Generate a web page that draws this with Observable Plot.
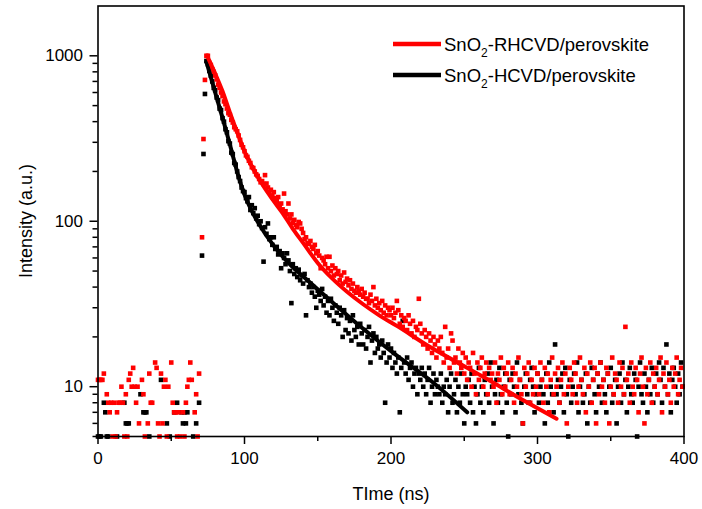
<!DOCTYPE html>
<html><head><meta charset="utf-8">
<script src="https://cdn.jsdelivr.net/npm/d3@7"></script>
<script src="https://cdn.jsdelivr.net/npm/@observablehq/plot@0.6"></script>
<style>
html,body{margin:0;padding:0;background:#fff;}
#chart{width:702px;height:509px;}
</style></head><body><div id="chart"></div>
<script>
// TCSPC channel width (ns); channel i is at time i * channelWidthNs
const channelWidthNs = 1;

// SnO2-RHCVD/perovskite photon counts, channels 0..399
const redCounts = [
  11, 11, 11, 11, 12, 4, 9, 8, 7, 8,
  5, 8, 5, 7, 8, 8, 10, 8, 5, 9,
  5, 11, 12, 10, 13, 10, 8, 10, 6, 4,
  11, 9, 5, 3, 6, 12, 8, 8, 4, 14,
  13, 6, 5, 12, 6, 10, 11, 5, 10, 4,
  14, 8, 7, 7, 5, 7, 5, 4, 7, 5,
  8, 10, 11, 14, 11, 3, 7, 9, 5, 12,
  4, 80, 314, 715, 1000, 1000, 905, 880, 830, 800,
  760, 720, 670, 640, 600, 570, 530, 510, 480, 450,
  440, 410, 395, 370, 360, 350, 330, 310, 290, 280,
  265, 250, 245, 232, 225, 212, 210, 200, 192, 188,
  180, 172, 175, 168, 190, 169, 160, 150, 155, 143,
  150, 138, 132, 140, 125, 128, 118, 147, 115, 110,
  128, 104, 110, 98, 102, 95, 92, 99, 97, 90,
  85, 78, 80, 74, 73, 76, 70, 68, 72, 64,
  66, 62, 52, 60, 58, 55, 61, 52, 61, 50,
  54, 47, 52, 48, 50, 44, 47, 42, 49, 43,
  45, 41, 44, 39, 42, 38, 37, 40, 38, 36,
  39, 35, 37, 34, 34, 32, 36, 33, 40, 31,
  34, 30, 32, 29, 33, 28, 31, 27, 30, 29,
  27, 30, 26, 28, 33, 29, 24, 27, 23, 26,
  25, 22, 27, 24, 21, 25, 20, 23, 22, 34,
  24, 21, 18, 22, 20, 17, 21, 19, 16, 20,
  18, 15, 19, 17, 20, 16, 14, 23, 15, 17,
  13, 21, 19, 14, 15, 12, 17, 14, 13, 16,
  12, 15, 11, 14, 13, 10, 16, 12, 9, 14,
  11, 13, 15, 10, 12, 14, 9, 13, 11, 12,
  10, 14, 8, 12, 11, 15, 9, 13, 10, 12,
  14, 9, 11, 13, 8, 12, 10, 15, 11, 9,
  6, 13, 10, 12, 14, 8, 11, 9, 13, 10,
  12, 9, 14, 11, 8, 13, 10, 12, 7, 11,
  15, 9, 12, 10, 13, 8, 11, 14, 9, 12,
  6, 10, 13, 11, 9, 14, 12, 8, 10, 15,
  11, 9, 13, 7, 12, 10, 14, 8, 11, 13,
  6, 12, 9, 14, 10, 11, 8, 13, 12, 6,
  10, 15, 9, 12, 11, 8, 14, 10, 13, 9,
  23, 11, 12, 8, 14, 10, 9, 13, 11, 7,
  12, 15, 10, 6, 13, 9, 11, 14, 8, 12,
  10, 13, 9, 11, 15, 7, 12, 10, 14, 9,
  11, 8, 13, 10, 12, 15, 9, 11, 13, 10
];

// SnO2-HCVD/perovskite photon counts, channels 0..399
const blackCounts = [
  5, 5, 5, 4, 8, 7, 5, 5, 4, 3,
  4, 2, 4, 5, 3, 4, 2, 4, 8, 6,
  6, 6, 4, 3, 4, 2, 4, 3, 4, 9,
  4, 7, 7, 7, 4, 5, 3, 4, 2, 4,
  3, 4, 4, 11, 3, 4, 2, 6, 4, 5,
  3, 4, 7, 4, 8, 3, 4, 7, 6, 7,
  6, 7, 4, 3, 4, 5, 4, 6, 3, 8,
  4, 62, 255, 588, 930, 890, 810, 760, 700, 640,
  620, 560, 540, 480, 470, 420, 400, 360, 345, 305,
  295, 260, 255, 225, 220, 200, 185, 175, 160, 152,
  150, 138, 132, 140, 117, 125, 112, 120, 104, 108,
  96, 100, 91, 57, 92, 84, 97, 78, 80, 72,
  80, 68, 70, 63, 66, 52, 64, 60, 55, 64,
  58, 50, 32, 55, 48, 52, 46, 51, 44, 47,
  42, 48, 27, 44, 40, 42, 37, 40, 35, 30,
  38, 36, 33, 39, 31, 35, 28, 33, 27, 34,
  30, 25, 31, 28, 24, 30, 27, 20, 29, 22,
  26, 21, 25, 19, 27, 22, 20, 23, 18, 24,
  21, 18, 22, 17, 20, 23, 14, 19, 21, 16,
  20, 17, 18, 15, 19, 16, 8, 14, 18, 15,
  17, 13, 16, 14, 12, 15, 7, 13, 25, 14,
  12, 15, 11, 13, 14, 10, 12, 13, 9, 12,
  11, 13, 10, 12, 9, 11, 13, 8, 10, 12,
  9, 11, 10, 9, 12, 8, 10, 9, 11, 7,
  10, 12, 8, 9, 11, 7, 10, 8, 12, 9,
  6, 10, 9, 11, 8, 12, 7, 10, 6, 9,
  13, 8, 10, 7, 11, 9, 12, 8, 14, 10,
  6, 9, 11, 8, 13, 9, 7, 10, 12, 8,
  5, 11, 9, 12, 10, 7, 14, 9, 11, 8,
  6, 10, 12, 9, 8, 11, 13, 10, 7, 9,
  12, 8, 10, 11, 9, 6, 12, 8, 14, 10,
  9, 7, 18, 9, 11, 8, 10, 12, 7, 13,
  9, 5, 11, 8, 10, 12, 9, 14, 7, 10,
  11, 8, 9, 12, 6, 10, 8, 13, 11, 9,
  7, 12, 10, 14, 8, 11, 9, 7, 12, 10,
  13, 8, 9, 11, 6, 10, 12, 8, 14, 9,
  11, 7, 10, 13, 9, 8, 12, 11, 5, 10,
  14, 9, 8, 12, 10, 7, 11, 9, 13, 8,
  10, 12, 9, 14, 11, 8, 13, 10, 18, 9,
  12, 7, 11, 13, 10, 8, 12, 9, 14, 10
];

// Fitted decay curves
const redFitTime   = [74.5, 80, 85, 90, 95, 100, 106, 112, 119, 126, 133, 140, 150, 160, 170, 181, 192, 204, 227, 250, 265, 290, 313];
const redFitCount  = [1000, 780, 610, 455, 345, 265, 207, 168, 136, 112, 90, 74, 56, 45, 37.5, 31.5, 27, 23.3, 17.3, 13.3, 11.2, 8.3, 6.4];
const blackFitTime  = [74, 80, 87, 92, 96, 100, 105, 110, 120, 130, 143, 159, 181, 204, 227, 252];
const blackFitCount = [920, 600, 365, 250, 185, 145, 115, 96, 71, 56, 44, 33, 22.4, 15.4, 10.9, 7.0];

const xMajorTicks = [0, 100, 200, 300, 400];
const xMinorTicks = [50, 150, 250, 350];
const yMajorTicks = [10, 100, 1000];
const yMinorTicks = [5, 6, 7, 8, 9, 20, 30, 40, 50, 60, 70, 80, 90, 200, 300, 400, 500, 600, 700, 800, 900];

const xLabel = "TIme (ns)";
const yLabel = "Intensity (a.u.)";
const seriesLegend = [
  {pre: "SnO", sub: "2", post: "-RHCVD/perovskite", color: "#ff0000"},
  {pre: "SnO", sub: "2", post: "-HCVD/perovskite", color: "#000000"}
];

const toPoints = counts => counts
  .map((c, i) => ({t: i * channelWidthNs, count: c}))
  .filter(d => d.count >= 5);
const redPts = toPoints(redCounts);
const blackPts = toPoints(blackCounts);
const redFit = redFitTime.map((t, i) => ({t, count: redFitCount[i]}));
const blackFit = blackFitTime.map((t, i) => ({t, count: blackFitCount[i]}));

const FONT = "'Liberation Sans', Arial, Helvetica, sans-serif";

const plot = Plot.plot({
  width: 702,
  height: 509,
  marginLeft: 97.5,
  marginRight: 18.5,
  marginTop: 5.5,
  marginBottom: 73,
  style: {fontFamily: FONT, fontSize: "17px", color: "#000", background: "#fff", overflow: "visible"},
  x: {domain: [0, 400]},
  y: {type: "log", domain: [5, 2000]},
  marks: [
    Plot.dot(blackPts, {x: "t", y: "count", symbol: "square", r: 2.6, fill: "#000000"}),
    Plot.dot(redPts, {x: "t", y: "count", symbol: "square", r: 2.6, fill: "#ff0000"}),
    Plot.line(blackFit, {x: "t", y: "count", stroke: "#000000", strokeWidth: 4, curve: "monotone-x"}),
    Plot.line(redFit, {x: "t", y: "count", stroke: "#ff0000", strokeWidth: 4, curve: "monotone-x"}),
    Plot.axisX({ticks: xMajorTicks, tickSize: 8, tickPadding: 7, label: null, tickFormat: d => String(d), strokeWidth: 1.5}),
    Plot.axisX({ticks: xMinorTicks, tickSize: 5, text: null, label: null, strokeWidth: 1.5}),
    Plot.axisY({ticks: yMajorTicks, tickSize: 8, tickPadding: 7, label: null, tickFormat: d => String(d), strokeWidth: 1.5}),
    Plot.axisY({ticks: yMinorTicks, tickSize: 5, text: null, label: null, strokeWidth: 1.5}),
    Plot.frame({stroke: "#000", strokeWidth: 1.6})
  ]
});

document.getElementById("chart").appendChild(plot);

const svg = d3.select(plot);
svg.append("text")
  .attr("x", 391).attr("y", 500)
  .attr("text-anchor", "middle")
  .attr("font-family", FONT).attr("font-size", 18).attr("fill", "#000")
  .text(xLabel);
svg.append("text")
  .attr("transform", "translate(32,221) rotate(-90)")
  .attr("text-anchor", "middle")
  .attr("font-family", FONT).attr("font-size", 18).attr("fill", "#000")
  .text(yLabel);

const legend = svg.append("g").attr("text-anchor", "start");
seriesLegend.forEach((s, i) => {
  const y = 44 + i * 31;
  legend.append("line")
    .attr("x1", 393).attr("x2", 441).attr("y1", y).attr("y2", y)
    .attr("stroke", s.color).attr("stroke-width", 4.5);
  const tx = legend.append("text")
    .attr("x", 444).attr("y", y + 6.5)
    .attr("text-anchor", "start")
    .attr("font-family", FONT).attr("font-size", 18.5).attr("fill", "#000");
  tx.append("tspan").text(s.pre);
  tx.append("tspan").attr("font-size", 12).attr("dy", 6).text(s.sub);
  tx.append("tspan").attr("dy", -6).text(s.post);
});
</script>
</body></html>
